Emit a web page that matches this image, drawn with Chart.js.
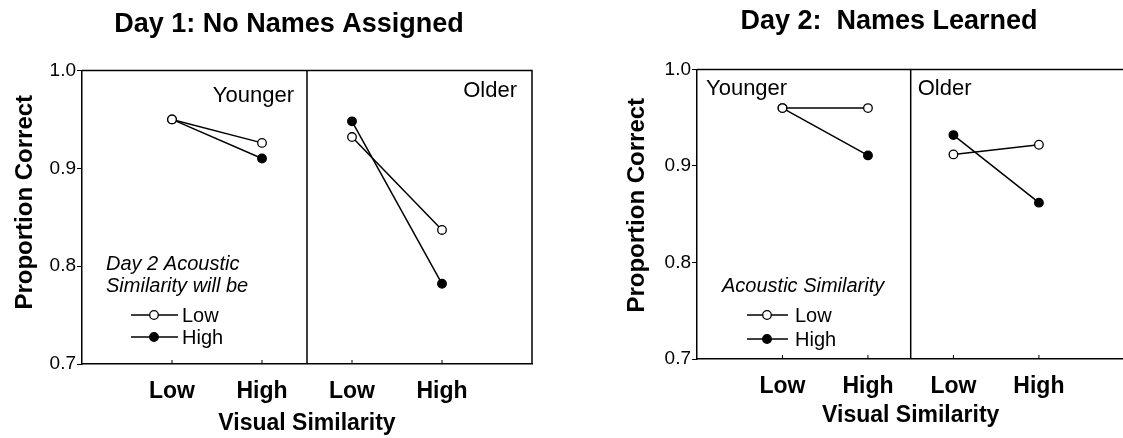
<!DOCTYPE html>
<html>
<head>
<meta charset="utf-8">
<script src="https://cdn.jsdelivr.net/npm/chart.js@4.4.1/dist/chart.umd.min.js"></script>
<style>
    html, body { margin: 0; padding: 0; background: #fff; width: 1123px; height: 438px; overflow: hidden; }
    canvas { position: absolute; top: 0; }
    #day1Chart { left: 0; }
    #day2Chart { left: 600px; }
</style>
</head>
<body>
<canvas id="day1Chart" width="578" height="438"></canvas>
<canvas id="day2Chart" width="530" height="438"></canvas>
<script>
// x positions 1,2 = Younger Low/High, 3,4 = Older Low/High
const xLabels = ['Low', 'High', 'Low', 'High'];
const groups = ['Younger', 'Older'];
const seriesLabels = ['Low', 'High'];
const yTicks = [0.7, 0.8, 0.9, 1.0];

// Day 1 (by the acoustic similarity the words will have on day 2)
const day1Low = [0.950, 0.926, 0.932, 0.837];
const day1High = [0.950, 0.910, 0.948, 0.782];
// Day 2 (names learned)
const day2Low = [0.960, 0.960, 0.912, 0.922];
const day2High = [0.960, 0.911, 0.932, 0.862];

const FONT = '"Liberation Sans", Arial, Helvetica, sans-serif';
Chart.defaults.font.family = FONT;
Chart.defaults.color = '#000';

// put a null between the two age groups so the lines break there
function groupPoints(vals) {
    const pts = [];
    vals.forEach((v, i) => {
        if (i === 2) pts.push({ x: 2.5, y: null });
        pts.push({ x: i + 1, y: v });
    });
    return pts;
}

function series(label, vals, fill) {
    return {
        label: label,
        data: groupPoints(vals),
        borderColor: '#000',
        borderWidth: 1.5,
        pointRadius: 4.3,
        pointBorderWidth: 1.3,
        pointBorderColor: '#000',
        pointBackgroundColor: fill,
        spanGaps: false,
        tension: 0
    };
}

// frame, group divider, inward x ticks, group names, legend, y title
const panelDecor = {
    id: 'panelDecor',
    afterDraw(chart, args, o) {
        const { ctx, chartArea: a, scales: { x } } = chart;
        ctx.save();
        ctx.strokeStyle = '#000';
        ctx.lineWidth = 1.5;
        ctx.beginPath();
        ctx.moveTo(a.left, a.top);
        ctx.lineTo(a.right, a.top);
        if (o.frameRight) ctx.lineTo(a.right, a.bottom);
        ctx.stroke();

        const dv = x.getPixelForValue(o.divider);
        ctx.beginPath();
        ctx.moveTo(dv, a.top);
        ctx.lineTo(dv, a.bottom);
        ctx.stroke();

        ctx.lineWidth = 1;
        x.ticks.forEach(t => {
            const px = x.getPixelForValue(t.value);
            ctx.beginPath();
            ctx.moveTo(px, a.bottom);
            ctx.lineTo(px, a.bottom - 4);
            ctx.stroke();
        });

        ctx.fillStyle = '#000';
        ctx.textBaseline = 'middle';
        ctx.font = '22px ' + FONT;
        o.groupLabels.forEach(g => {
            ctx.textAlign = g.align;
            ctx.fillText(g.text, x.getPixelForValue(g.at) + g.dx, a.top + g.dy);
        });

        // legend
        const lg = o.legend;
        ctx.textAlign = 'left';
        ctx.font = 'italic 20px ' + FONT;
        lg.title.forEach((t, i) => ctx.fillText(t, a.left + lg.titleX, a.bottom + lg.titleY[i]));
        ctx.font = '20px ' + FONT;
        chart.data.datasets.forEach((ds, i) => {
            const ry = a.bottom + lg.rowY[i];
            ctx.strokeStyle = ds.borderColor;
            ctx.lineWidth = ds.borderWidth;
            ctx.beginPath();
            ctx.moveTo(a.left + lg.lineX[0], ry);
            ctx.lineTo(a.left + lg.lineX[1], ry);
            ctx.stroke();
            ctx.beginPath();
            ctx.arc(a.left + lg.markX, ry, ds.pointRadius, 0, Math.PI * 2);
            ctx.fillStyle = ds.pointBackgroundColor;
            ctx.fill();
            ctx.lineWidth = ds.pointBorderWidth;
            ctx.strokeStyle = ds.pointBorderColor;
            ctx.stroke();
            ctx.fillStyle = '#000';
            ctx.fillText(ds.label, a.left + lg.textX, ry + 1);
        });

        // y axis title
        const yt = o.yTitle;
        ctx.translate(a.left + yt.dx, (a.top + a.bottom) / 2 + yt.dy);
        ctx.rotate(-Math.PI / 2);
        ctx.textAlign = 'center';
        ctx.font = 'bold 24px ' + FONT;
        ctx.fillText(yt.text, 0, 0);
        ctx.restore();
    }
};

function makePanel(id, p) {
    new Chart(document.getElementById(id), {
        type: 'line',
        data: {
            datasets: [
                series(seriesLabels[0], p.low, '#fff'),
                series(seriesLabels[1], p.high, '#000')
            ]
        },
        options: {
            responsive: false,
            animation: false,
            events: [],
            layout: { padding: p.padding },
            scales: {
                x: {
                    type: 'linear',
                    min: 0,
                    max: 5,
                    afterBuildTicks: s => { s.ticks = xLabels.map((l, i) => ({ value: i + 1 })); },
                    afterFit: s => { s.height = p.xHeight; },
                    grid: { display: false },
                    border: { color: '#000', width: 1.5 },
                    ticks: {
                        autoSkip: false,
                        maxRotation: 0,
                        padding: 6,
                        font: { size: 23, weight: 'bold' },
                        callback: (v, i) => xLabels[i]
                    },
                    title: {
                        display: true,
                        text: 'Visual Similarity',
                        font: { size: 23, weight: 'bold' },
                        padding: { top: 0, bottom: 1 }
                    }
                },
                y: {
                    min: 0.7,
                    max: 1.0,
                    afterBuildTicks: s => { s.ticks = yTicks.map(v => ({ value: v })); },
                    afterFit: s => { s.width = p.yWidth; },
                    grid: { drawOnChartArea: false, drawTicks: true, tickLength: 5, color: '#000', lineWidth: 1 },
                    border: { color: '#000', width: 1.5 },
                    ticks: {
                        padding: 1,
                        font: { size: 19 },
                        callback: v => v.toFixed(1)
                    }
                }
            },
            plugins: {
                legend: { display: false },
                tooltip: { enabled: false },
                title: {
                    display: true,
                    text: p.title,
                    font: { size: 27, weight: 'bold' },
                    padding: p.titlePad
                },
                panelDecor: {
                    divider: 2.5,
                    frameRight: p.frameRight,
                    groupLabels: p.groupLabels,
                    legend: p.legend,
                    yTitle: p.yTitle
                }
            }
        },
        plugins: [panelDecor]
    });
}

makePanel('day1Chart', {
    title: 'Day 1: No Names Assigned',
    low: day1Low,
    high: day1High,
    padding: { left: 46, right: 46, top: 0, bottom: 0 },
    titlePad: { top: 8.1, bottom: 30.0 },
    xHeight: 74,
    yWidth: 36,
    frameRight: true,
    groupLabels: [
        { text: groups[0], at: 2.5, align: 'right', dx: -13, dy: 25 },
        { text: groups[1], at: 5, align: 'right', dx: -15, dy: 20 }
    ],
    legend: {
        title: ['Day 2 Acoustic', 'Similarity will be'],
        titleX: 24, titleY: [-100, -78],
        rowY: [-49, -27],
        lineX: [49, 96], markX: 72, textX: 100
    },
    yTitle: { text: 'Proportion Correct', dx: -57, dy: -15 }
});

makePanel('day2Chart', {
    title: 'Day 2:  Names Learned',
    low: day2Low,
    high: day2High,
    padding: { left: 48, right: 0, top: 0, bottom: 8 },
    titlePad: { top: 5.8, bottom: 31.3 },
    xHeight: 71,
    yWidth: 49,
    frameRight: false,
    groupLabels: [
        { text: groups[0], at: 0, align: 'left', dx: 9, dy: 19 },
        { text: groups[1], at: 2.5, align: 'left', dx: 7, dy: 19 }
    ],
    legend: {
        title: ['Acoustic Similarity'],
        titleX: 25, titleY: [-73],
        rowY: [-44, -20],
        lineX: [50, 91], markX: 70, textX: 98
    },
    yTitle: { text: 'Proportion Correct', dx: -60, dy: -9 }
});
</script>
</body>
</html>
